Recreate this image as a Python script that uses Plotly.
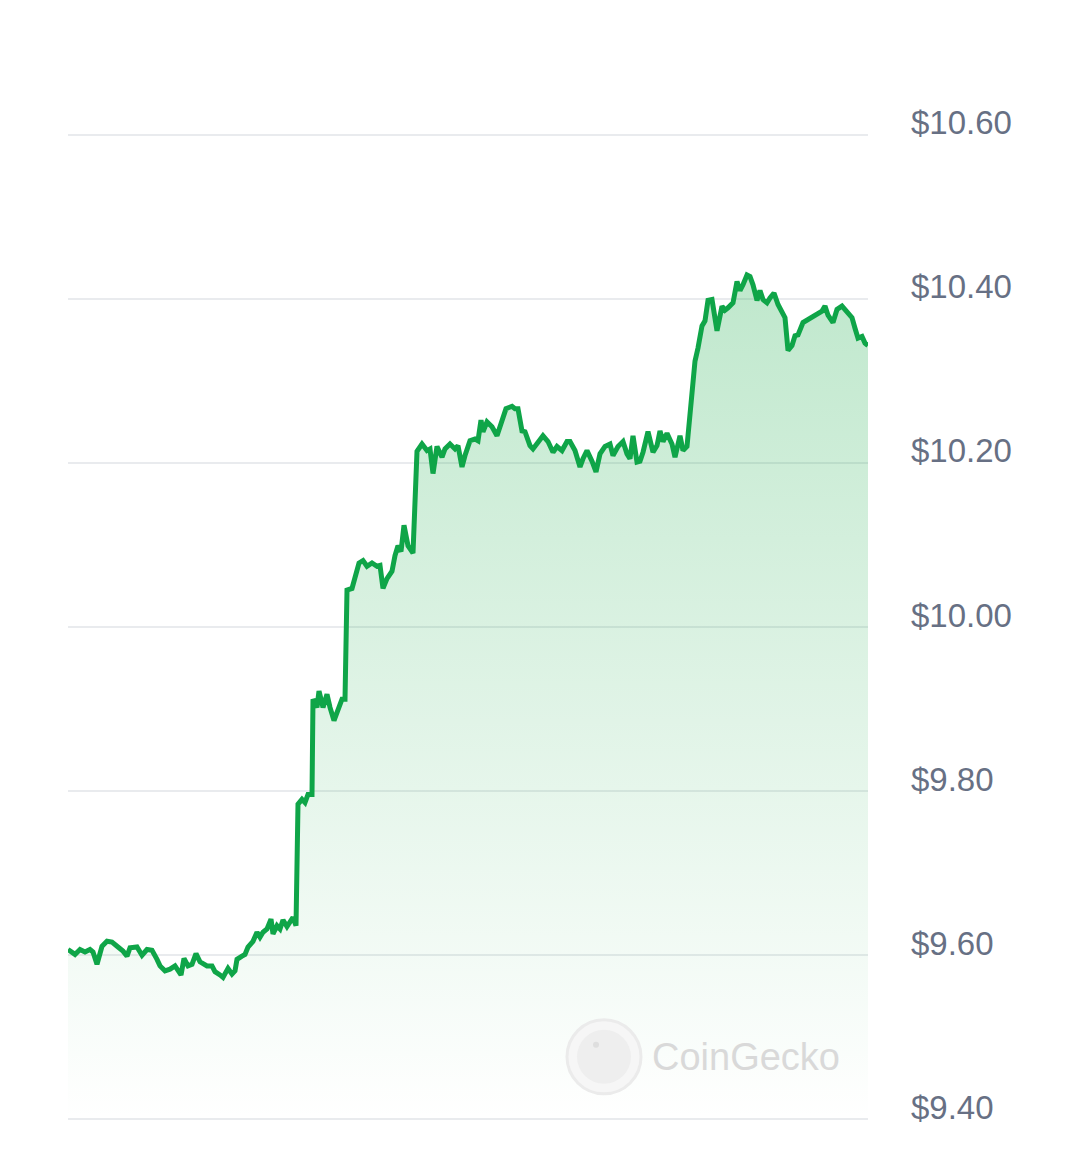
import plotly.graph_objects as go

# Time over the 24h window (hours) and price (USD)
hours = [0.00, 0.21, 0.36, 0.51, 0.66, 0.75, 0.87, 1.02, 1.17, 1.32, 1.50, 1.65, 1.77, 1.86, 2.07, 2.22, 2.37, 2.52, 2.67, 2.76,
         2.91, 3.06, 3.21, 3.39, 3.48, 3.60, 3.72, 3.84, 3.96, 4.17, 4.32, 4.41, 4.56, 4.65, 4.80, 4.92, 5.01, 5.07, 5.22, 5.31,
         5.40, 5.55, 5.67, 5.76, 5.85, 5.97, 6.09, 6.15, 6.27, 6.36, 6.45, 6.57, 6.75, 6.84, 6.90, 7.02, 7.11, 7.20, 7.32, 7.35,
         7.47, 7.53, 7.65, 7.77, 7.86, 7.98, 8.10, 8.22, 8.31, 8.37, 8.52, 8.61, 8.73, 8.85, 8.97, 9.12, 9.27, 9.36, 9.45, 9.57,
         9.72, 9.81, 9.90, 9.99, 10.08, 10.20, 10.35, 10.47, 10.62, 10.77, 10.86, 10.95, 11.07, 11.22, 11.31, 11.46, 11.61, 11.70, 11.82, 11.91,
         12.06, 12.21, 12.30, 12.39, 12.45, 12.57, 12.72, 12.87, 13.02, 13.14, 13.32, 13.41, 13.50, 13.62, 13.71, 13.86, 13.95, 14.10, 14.25, 14.40,
         14.55, 14.67, 14.82, 14.97, 15.06, 15.21, 15.36, 15.45, 15.57, 15.72, 15.84, 15.96, 16.11, 16.26, 16.35, 16.50, 16.65, 16.77, 16.86, 16.95,
         17.07, 17.16, 17.25, 17.40, 17.55, 17.67, 17.76, 17.85, 17.97, 18.12, 18.21, 18.36, 18.45, 18.57, 18.66, 18.72, 18.81, 18.90, 19.02, 19.11,
         19.20, 19.32, 19.41, 19.47, 19.62, 19.71, 19.80, 19.95, 20.07, 20.16, 20.25, 20.37, 20.46, 20.55, 20.67, 20.76, 20.85, 20.97, 21.06, 21.18,
         21.30, 21.42, 21.51, 21.60, 21.72, 21.81, 21.90, 22.05, 22.17, 22.32, 22.47, 22.62, 22.71, 22.80, 22.95, 23.07, 23.22, 23.37, 23.52, 23.61,
         23.70, 23.82, 23.91, 24.00]

price = [9.607, 9.601, 9.607, 9.604, 9.607, 9.604, 9.589, 9.611, 9.617, 9.616, 9.610, 9.605, 9.599, 9.609, 9.610, 9.600, 9.607, 9.606, 9.595, 9.587,
         9.581, 9.583, 9.587, 9.576, 9.596, 9.587, 9.589, 9.602, 9.592, 9.587, 9.587, 9.580, 9.576, 9.573, 9.584, 9.577, 9.581, 9.595, 9.599, 9.601,
         9.610, 9.617, 9.628, 9.622, 9.628, 9.632, 9.644, 9.626, 9.636, 9.632, 9.643, 9.635, 9.646, 9.636, 9.784, 9.790, 9.786, 9.796, 9.796, 9.912,
         9.902, 9.922, 9.902, 9.918, 9.902, 9.886, 9.899, 9.912, 9.912, 10.045, 10.047, 10.062, 10.078, 10.081, 10.074, 10.078, 10.074, 10.075, 10.047, 10.059,
         10.068, 10.087, 10.099, 10.092, 10.124, 10.099, 10.090, 10.214, 10.223, 10.215, 10.217, 10.187, 10.220, 10.207, 10.217, 10.223, 10.217, 10.221, 10.195, 10.209,
         10.227, 10.229, 10.227, 10.252, 10.238, 10.250, 10.244, 10.233, 10.250, 10.266, 10.269, 10.266, 10.266, 10.239, 10.238, 10.221, 10.217, 10.226, 10.233, 10.226,
         10.213, 10.220, 10.215, 10.226, 10.226, 10.215, 10.195, 10.205, 10.215, 10.202, 10.189, 10.211, 10.220, 10.223, 10.209, 10.220, 10.226, 10.211, 10.205, 10.233,
         10.201, 10.202, 10.213, 10.238, 10.213, 10.221, 10.239, 10.226, 10.236, 10.223, 10.207, 10.233, 10.215, 10.220, 10.258, 10.291, 10.324, 10.340, 10.367, 10.373,
         10.398, 10.399, 10.377, 10.361, 10.391, 10.386, 10.389, 10.395, 10.421, 10.410, 10.417, 10.429, 10.427, 10.417, 10.398, 10.410, 10.399, 10.395, 10.401, 10.407,
         10.393, 10.383, 10.377, 10.337, 10.343, 10.355, 10.356, 10.371, 10.374, 10.377, 10.380, 10.385, 10.391, 10.380, 10.371, 10.387, 10.391, 10.383, 10.377, 10.364,
         10.352, 10.354, 10.346, 10.343]

tick_values = [9.4, 9.6, 9.8, 10.0, 10.2, 10.4, 10.6]
tick_labels = ["$9.40", "$9.60", "$9.80", "$10.00", "$10.20", "$10.40", "$10.60"]

LINE = "#0fa548"

fig = go.Figure()
fig.add_trace(go.Scatter(
    x=hours, y=price, mode="lines",
    line=dict(color=LINE, width=5),
    fill="tozeroy",
    fillgradient=dict(
        type="vertical",
        colorscale=[[0, "rgba(22,170,70,0.0)"], [1, "rgba(22,170,70,0.28)"]],
        start=9.4, stop=10.45,
    ),
    hoverinfo="skip", showlegend=False,
))

# CoinGecko watermark
WX, WY = 0.67, 0.065
fig.add_shape(type="circle", xref="paper", yref="paper", xsizemode="pixel", ysizemode="pixel",
              xanchor=WX, yanchor=WY, x0=-37, x1=37, y0=-37, y1=37,
              line=dict(color="#ebebeb", width=3), fillcolor="#f6f6f6", layer="above")
fig.add_shape(type="circle", xref="paper", yref="paper", xsizemode="pixel", ysizemode="pixel",
              xanchor=WX, yanchor=WY, x0=-27, x1=27, y0=-27, y1=27,
              line=dict(width=0), fillcolor="#eeeeee", layer="above")
fig.add_shape(type="circle", xref="paper", yref="paper", xsizemode="pixel", ysizemode="pixel",
              xanchor=WX, yanchor=WY, x0=-11, x1=-5, y0=9, y1=15,
              line=dict(width=0), fillcolor="#dedede", layer="above")
fig.add_annotation(text="CoinGecko", xref="paper", yref="paper", x=0.848, y=WY,
                   xanchor="center", yanchor="middle", showarrow=False,
                   font=dict(family="Liberation Sans, Arial", size=38, color="#d9d9d9"))

fig.update_layout(
    width=1080, height=1173,
    margin=dict(l=60, r=220, t=125, b=60),
    paper_bgcolor="white", plot_bgcolor="white",
    xaxis=dict(range=[0, 24], showgrid=False, zeroline=False, showticklabels=False,
               showline=False, fixedrange=True),
    yaxis=dict(range=[9.398, 10.602], side="right", tickvals=tick_values, ticktext=tick_labels,
               showgrid=True, gridcolor="#e9ebee", gridwidth=1.5, zeroline=False, showline=False,
               ticks="", ticklabelstandoff=42, ticklabelshift=-12,
               tickfont=dict(family="Liberation Sans, Arial", size=33, color="#677084")),
)

fig.write_html("out.html")
